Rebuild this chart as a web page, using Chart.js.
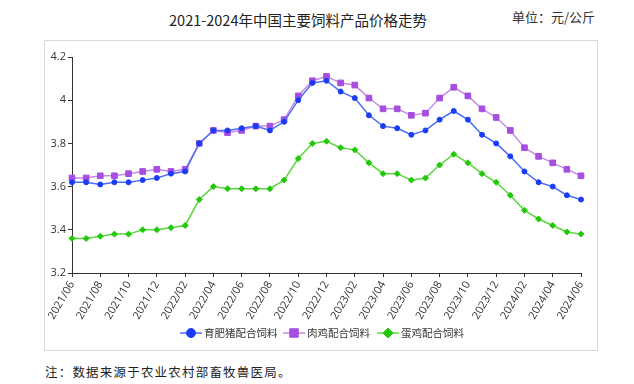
<!DOCTYPE html>
<html>
<head>
<meta charset="utf-8">
<script src="https://cdn.jsdelivr.net/npm/chart.js@4/dist/chart.umd.min.js"></script>
<style>
  body { margin: 0; background: #fff; width: 634px; height: 384px; position: relative; overflow: hidden; font-family: "Noto Sans CJK SC", sans-serif; }
  #box { position: absolute; left: 44px; top: 40px; width: 552px; height: 309px; border: 1px solid #d9d9d9; }
  #title { position: absolute; left: 0; width: 596px; top: 9px; text-align: center; font-size: 14.5px; color: #222; }
  #unit { position: absolute; left: 512px; top: 7px; font-size: 13px; color: #333; }
  #note { position: absolute; left: 45px; top: 362px; font-size: 12.5px; letter-spacing: 1.2px; color: #222; }
  #chart { position: absolute; left: 0; top: 0; }
</style>
</head>
<body>
<div id="box"></div>
<div id="title">2021-2024年中国主要饲料产品价格走势</div>
<div id="unit">单位：元/公斤</div>
<div id="note">注：数据来源于农业农村部畜牧兽医局。</div>
<canvas id="chart" width="634" height="384"></canvas>
<script>
// 月份 2021/06 ~ 2024/06
const months = [
  '2021/06','2021/07','2021/08','2021/09','2021/10','2021/11','2021/12',
  '2022/01','2022/02','2022/03','2022/04','2022/05','2022/06','2022/07','2022/08','2022/09','2022/10','2022/11','2022/12',
  '2023/01','2023/02','2023/03','2023/04','2023/05','2023/06','2023/07','2023/08','2023/09','2023/10','2023/11','2023/12',
  '2024/01','2024/02','2024/03','2024/04','2024/05','2024/06'
];

// 育肥猪配合饲料
const pigFeed = [3.62,3.62,3.61,3.62,3.62,3.63,3.64,3.66,3.67,3.80,3.86,3.86,3.87,
  3.88,3.86,3.90,4.00,4.08,4.09,4.04,4.01,3.93,3.88,3.87,3.84,3.86,
  3.91,3.95,3.91,3.84,3.80,3.74,3.67,3.62,3.60,3.56,3.54];
// 肉鸡配合饲料
const broilerFeed = [3.64,3.64,3.65,3.65,3.66,3.67,3.68,3.67,3.68,3.80,3.86,3.85,3.86,
  3.88,3.88,3.91,4.02,4.09,4.11,4.08,4.07,4.01,3.96,3.96,3.93,3.94,
  4.01,4.06,4.02,3.96,3.92,3.86,3.78,3.74,3.71,3.68,3.65];
// 蛋鸡配合饲料
const layerFeed = [3.36,3.36,3.37,3.38,3.38,3.40,3.40,3.41,3.42,3.54,3.60,3.59,3.59,
  3.59,3.59,3.63,3.73,3.80,3.81,3.78,3.77,3.71,3.66,3.66,3.63,3.64,
  3.70,3.75,3.71,3.66,3.62,3.56,3.49,3.45,3.42,3.39,3.38];

const seriesNames = ['育肥猪配合饲料', '肉鸡配合饲料', '蛋鸡配合饲料'];

function makeSet(label, data, line, dot, style, r, legendR) {
  return {
    label: label,
    data: data,
    borderColor: line,
    backgroundColor: dot,
    pointBackgroundColor: dot,
    pointBorderColor: dot,
    pointStyle: style,
    pointRadius: r,
    pointBorderWidth: 1,
    borderWidth: 1.5,
    tension: 0,
    clip: false,
    legendRadius: legendR
  };
}

// 범례: 선 + 마커
const lineLegend = {
  id: 'lineLegend',
  afterDraw(chart) {
    const ctx = chart.ctx;
    const y = 333;
    const starts = [180, 283, 377];
    chart.data.datasets.forEach((ds, i) => {
      const x = starts[i];
      ctx.save();
      ctx.strokeStyle = ds.borderColor;
      ctx.lineWidth = 1.5;
      ctx.beginPath();
      ctx.moveTo(x, y);
      ctx.lineTo(x + 22, y);
      ctx.stroke();
      ctx.fillStyle = ds.pointBackgroundColor;
      ctx.strokeStyle = ds.pointBorderColor;
      ctx.lineWidth = 1;
      Chart.helpers.drawPoint(ctx, { pointStyle: ds.pointStyle, radius: ds.legendRadius, borderWidth: 1, rotation: 0 }, x + 11, y);
      ctx.fillStyle = '#333';
      ctx.font = '10.5px "Noto Sans CJK SC"';
      ctx.textBaseline = 'middle';
      ctx.textAlign = 'left';
      ctx.fillText(ds.label, x + 24, y);
      ctx.restore();
    });
  }
};

new Chart(document.getElementById('chart'), {
  type: 'line',
  data: {
    labels: months,
    datasets: [
      makeSet(seriesNames[0], pigFeed, '#4d6cf5', '#1a3cf5', 'circle', 2.5, 4.5),
      makeSet(seriesNames[1], broilerFeed, '#c58be6', '#a64ee0', 'rect', 4, 6),
      makeSet(seriesNames[2], layerFeed, '#5ad83c', '#22c80a', 'rectRot', 3, 5)
    ]
  },
  options: {
    responsive: false,
    animation: false,
    devicePixelRatio: 1,
    layout: { padding: { left: 0, top: 57, right: 53, bottom: 0 } },
    plugins: {
      legend: { display: false },
      tooltip: { enabled: false }
    },
    scales: {
      x: {
        offset: false,
        border: { color: '#333', width: 1 },
        grid: { drawOnChartArea: false, drawTicks: true, tickLength: 4, color: '#333' },
        ticks: {
          autoSkip: false,
          minRotation: 60,
          maxRotation: 60,
          padding: 2,
          color: '#333',
          font: { size: 11, family: '"Open Sans", sans-serif' },
          callback: function (value, index) {
            return index % 2 === 0 ? months[index] : null;
          }
        },
        afterFit: function (scale) { scale.height = 111; }
      },
      y: {
        min: 3.2,
        max: 4.2,
        border: { color: '#333', width: 1 },
        grid: { drawOnChartArea: false, drawTicks: true, tickLength: 4, color: '#333' },
        ticks: {
          stepSize: 0.2,
          padding: 2,
          color: '#333',
          font: { size: 11, family: '"Open Sans", sans-serif' },
          callback: function (value) { return String(+value.toFixed(1)); }
        },
        afterFit: function (scale) { scale.width = 72; }
      }
    }
  },
  plugins: [lineLegend]
});
</script>
</body>
</html>
